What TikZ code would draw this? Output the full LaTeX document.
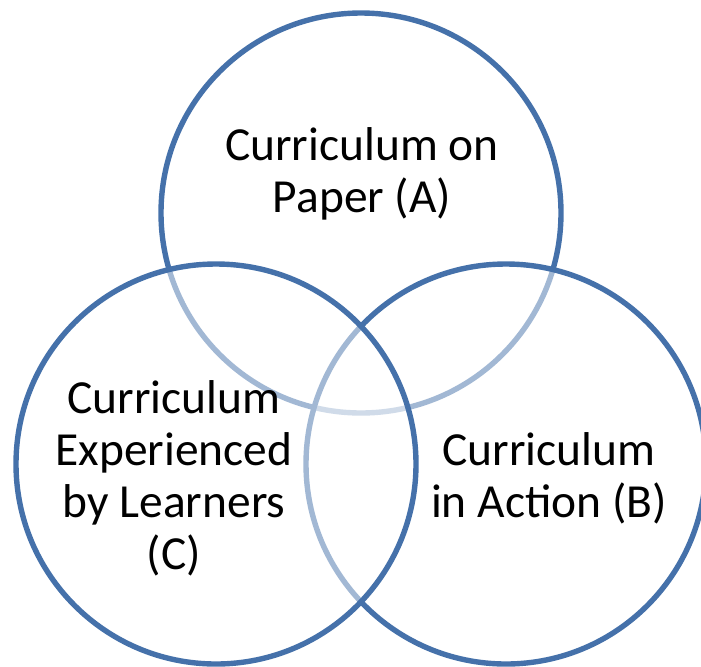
\documentclass[tikz,border=0pt]{standalone}
\usepackage{fontspec}
\setmainfont{Carlito}
\usepackage{tikz}
\definecolor{ringblue}{HTML}{4571AA}
\tikzset{
    ring/.style={draw=ringblue, line width=5.4*0.03cm},
    veil/.style={fill=white, fill opacity=0.5},
    label/.style={align=center, font=\fontsize{40.5}{44.4}\selectfont}
}

\begin{document}
\begin{tikzpicture}[x=0.03cm, y=-0.03cm]
    \useasboundingbox (0,0) rectangle (701,666);
    \coordinate (pA) at (361,213);
    \coordinate (pB) at (506,464);
    \coordinate (pC) at (216,464);
    % Rings, each later one veils the earlier ones
    \draw[ring] (pA) circle (200);
    \foreach \c in {pB,pC} {
        \fill[veil] (\c) circle (200);
        \draw[ring] (\c) circle (200);
    }
    % Labels
    \node[label](a) at (362,174) {Curriculum on\\Paper (A)};
    \node[label](c) at (174,478) {Curriculum\\Experienced\\by Learners\\(C)};
    \node[label](b) at (549,478) {Curriculum\\in Action (B)};
\end{tikzpicture}
\end{document}
